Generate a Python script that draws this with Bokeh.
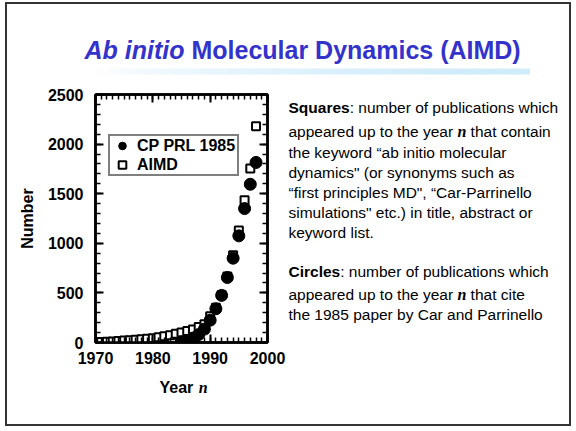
from bokeh.plotting import figure
from bokeh.layouts import column, row
from bokeh.models import (Range1d, LinearAxis, SingleIntervalTicker, Legend,
                          LegendItem, CustomJSTickFormatter)
from bokeh.core.properties import value
from bokeh.embed import file_html
from bokeh.resources import INLINE

# ---------------- data ----------------
years_aimd = list(range(1970, 1999))
aimd = [2, 5, 8, 11, 15, 19, 23, 28, 33, 38, 44, 52, 62, 74, 88, 100, 115, 132,
        155, 185, 265, 350, 480, 665, 880, 1130, 1435, 1755, 2180]
years_cp = list(range(1985, 1999))
cp = [8, 22, 45, 80, 135, 225, 340, 475, 655, 850, 1075, 1350, 1595, 1815]
y_ticks_interval = 500
x_ticks_interval = 10

title_italic = "Ab initio"
title_rest = "Molecular Dynamics (AIMD)"
x_title = "Year"
x_title_var = "n"
sq_lines = [
    [("Squares", "b"), (": number of publications which", "r")],
    [("appeared up to the year", "r"), ("n", "n"), ("that contain", "r")],
    [("the keyword \u201cab initio molecular", "r")],
    [("dynamics\" (or synonyms such as", "r")],
    [("\u201cfirst principles MD\", \u201cCar-Parrinello", "r")],
    [("simulations\" etc.) in title, abstract or", "r")],
    [("keyword list.", "r")],
]
ci_lines = [
    [("Circles", "b"), (": number of publications which", "r")],
    [("appeared up to the year", "r"), ("n", "n"), ("that cite", "r")],
    [("the 1985 paper by Car and Parrinello", "r")],
]

# ---------------- layout constants (screenshot px) ----------------
FONT = "Liberation Sans"
SERIF = "Liberation Serif"
CX, CY = 8, 5                 # content origin inside the slide border
CW, CH = 562, 420
TOP_H = 80
LEFT_W = 280
CHART_H = 290
BOT_H = CH - TOP_H - CHART_H
FL, FT, FR, FB = 96, 95, 268, 343   # plot frame
TITLE_BLUE = "#3333CC"
PS = 15.5
NS = 16
# advance widths (em/1000) of segments that precede a style change; space = 278
EM = {"Squares": 3946, "Circles": 3335, "appeared up to the year": 10618, "n": 556,
      "Ab initio": 4000, "Year": 2168}
SPACE = 278

TOP_PAD = FT - (CY + TOP_H)
BOT_PAD = (CY + TOP_H + CHART_H) - FB


def blank(w, h, x0, y0, pad_top=0, pad_bottom=0):
    """Empty figure whose data coordinates are screenshot pixels (y down)."""
    f = figure(width=w, height=h, output_backend="svg", toolbar_location=None,
               x_range=Range1d(x0, x0 + w),
               y_range=Range1d(y0 + h - pad_bottom, y0 + pad_top),
               x_axis_type=None, y_axis_type=None, min_border=0)
    f.min_border_top = pad_top
    f.min_border_bottom = pad_bottom
    f.outline_line_color = None
    f.xgrid.visible = False
    f.ygrid.visible = False
    f.background_fill_color = "white"
    f.border_fill_color = "white"
    return f


def txt(f, xs, ys, texts, size, style="normal", font=FONT, color="black", align="left"):
    f.text(x=xs, y=ys, text=texts, text_font=value(font),
           text_font_size=value(f"{size}px"), text_font_style=value(style),
           text_color=color, text_align=align, text_baseline="alphabetic")


# ---------------- title strip ----------------
top_fig = blank(CW, TOP_H, CX, CY)
tx, ty, ts = 85, 50, 25
txt(top_fig, [tx], [ty], [title_italic], ts, "bold italic", color=TITLE_BLUE)
txt(top_fig, [tx + (EM["Ab initio"] + SPACE) / 1000 * ts], [ty], [title_rest], ts,
    "bold", color=TITLE_BLUE)
n_steps = 40
gx0, gx1, gyt, gyb = 99, 530, 69, 75
c0 = (255, 255, 255)
c1 = (208, 235, 250)
lefts, rights, cols = [], [], []
for i in range(n_steps):
    f = min(1.0, ((i + 0.5) / n_steps) ** 0.6 * 1.1)
    cols.append("#%02x%02x%02x" % tuple(int(round(a + (b - a) * f)) for a, b in zip(c0, c1)))
    lefts.append(gx0 + (gx1 - gx0) * i / n_steps)
    rights.append(gx0 + (gx1 - gx0) * (i + 1) / n_steps + 0.6)
top_fig.quad(left=lefts, right=rights, top=gyt, bottom=gyb,
             fill_color=cols, line_color=None)

# ---------------- chart ----------------
p = figure(width=LEFT_W, height=CHART_H, output_backend="svg", toolbar_location=None,
           x_range=Range1d(1970, 2000), y_range=Range1d(0, 2500))
p.min_border_left = FL - CX
p.min_border_right = CX + LEFT_W - FR
p.min_border_top = TOP_PAD
p.min_border_bottom = BOT_PAD
p.background_fill_color = "white"
p.border_fill_color = "white"
p.outline_line_color = "black"
p.outline_line_width = 2.5
p.xgrid.visible = False
p.ygrid.visible = False


def style_axis(ax, show_labels):
    ax.axis_line_width = 2.5
    ax.axis_line_color = "black"
    ax.major_tick_in = 8
    ax.major_tick_out = 0
    ax.minor_tick_in = 5
    ax.minor_tick_out = 0
    ax.major_tick_line_width = 2
    ax.minor_tick_line_width = 1.5
    ax.major_tick_line_color = "black"
    ax.minor_tick_line_color = "black"
    ax.major_label_text_font = FONT
    ax.major_label_text_font_style = "bold"
    ax.major_label_text_font_size = "16px"
    ax.major_label_text_color = "black"
    if not show_labels:
        ax.formatter = CustomJSTickFormatter(code="return ''")
        ax.major_label_standoff = 0


xax = p.xaxis[0]
yax = p.yaxis[0]
xax.ticker = SingleIntervalTicker(interval=x_ticks_interval, num_minor_ticks=10)
yax.ticker = SingleIntervalTicker(interval=y_ticks_interval, num_minor_ticks=5)
style_axis(xax, True)
style_axis(yax, True)
xax.major_label_standoff = 9
yax.major_label_standoff = 12
yax.axis_label = "Number"
yax.axis_label_text_font = FONT
yax.axis_label_text_font_style = "bold"
yax.axis_label_text_font_size = "16px"
yax.axis_label_text_color = "black"
yax.axis_label_standoff = 9

top_ax = LinearAxis(ticker=SingleIntervalTicker(interval=x_ticks_interval, num_minor_ticks=10))
right_ax = LinearAxis(ticker=SingleIntervalTicker(interval=y_ticks_interval, num_minor_ticks=5))
style_axis(top_ax, False)
style_axis(right_ax, False)
p.add_layout(top_ax, "above")
p.add_layout(right_ax, "right")

r_aimd = p.scatter(years_aimd, aimd, marker="square", size=8, fill_color="white",
                   line_color="black", line_width=2)
r_cp = p.scatter(years_cp, cp, marker="circle", size=12, fill_color="black",
                 line_color="black")

legend = Legend(items=[LegendItem(label="CP PRL 1985", renderers=[r_cp]),
                       LegendItem(label="AIMD", renderers=[r_aimd])],
                location=(109 - FL, FB - 177))
legend.label_text_font = FONT
legend.label_text_font_style = "bold"
legend.label_text_font_size = "16px"
legend.label_text_color = "black"
legend.glyph_width = 24
legend.glyph_height = 19
legend.label_height = 19
legend.label_width = 100
legend.label_standoff = 3
legend.spacing = 0
legend.padding = 0
legend.margin = 0
legend.border_line_color = "black"
legend.border_line_width = 2
legend.background_fill_color = "white"
legend.background_fill_alpha = 1
p.add_layout(legend)

# ---------------- explanatory text (frame aligned with the chart's frame) ----------------
side_fig = blank(CW - LEFT_W, CHART_H, CX + LEFT_W, CY + TOP_H, TOP_PAD, BOT_PAD)


def paragraph(f, lines, px, baselines):
    for segs, by in zip(lines, baselines):
        x = px
        for k, (text, kind) in enumerate(segs):
            if kind == "b":
                txt(f, [x], [by], [text], PS, "bold")
            elif kind == "n":
                txt(f, [x], [by], [text], NS, "bold italic", font=SERIF)
            else:
                txt(f, [x], [by], [text], PS)
            if k + 1 < len(segs):
                x += EM.get(text, 0) / 1000 * (NS if kind == "n" else PS)
                if kind == "n" or segs[k + 1][1] == "n":
                    x += SPACE / 1000 * PS


paragraph(side_fig, sq_lines, 289, [108, 132, 152.5, 173, 193, 213, 233])
paragraph(side_fig, ci_lines, 289, [272, 295, 315])

# ---------------- x-axis title strip ----------------
bot_fig = blank(CW, BOT_H, CX, CY + TOP_H + CHART_H)
yx, yb = 160, 388
txt(bot_fig, [yx], [yb], [x_title], 16, "bold")
txt(bot_fig, [yx + (EM["Year"] + SPACE) / 1000 * 16], [yb], [x_title_var], NS,
    "bold italic", font=SERIF)

root = column(top_fig, row(p, side_fig), bot_fig,
              margin=(2, 0, 0, 5), styles={"border": "2px solid #333333"})

open("out.html", "w").write(file_html(root, INLINE))
